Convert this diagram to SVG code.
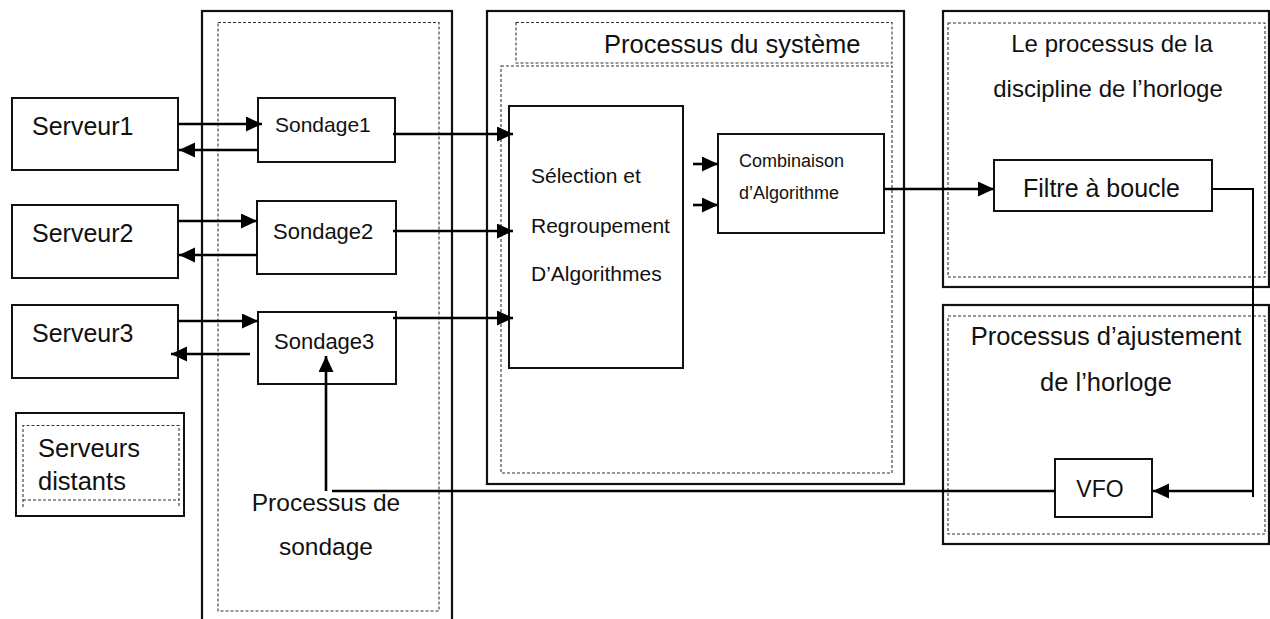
<svg xmlns="http://www.w3.org/2000/svg" width="1270" height="619" viewBox="0 0 1270 619">
  <style>
    .box { fill: none; stroke: #111; stroke-width: 2; }
    .frame { fill: none; stroke: #111; stroke-width: 2.2; }
    .dash { fill: none; stroke: #333; stroke-width: 1.1; stroke-dasharray: 3 2; }
    .wire { fill: none; stroke: #000; stroke-width: 2.6; }
    .thin { fill: none; stroke: #000; stroke-width: 2; }
    text { font-family: "Liberation Sans", Arial, sans-serif; fill: #111; }
  </style>
  <defs>
    <marker id="arrow" markerUnits="userSpaceOnUse" markerWidth="17" markerHeight="16" refX="16" refY="7.5" orient="auto">
      <path d="M0,0 L16,7.5 L0,15 z" fill="#000"/>
    </marker>
  </defs>

  <rect width="1270" height="619" fill="#fff"/>

  <!-- remote servers -->
  <g id="serveur1">
    <rect class="box" x="12" y="98" width="166" height="72"/>
    <text x="32" y="135" font-size="25">Serveur1</text>
  </g>
  <g id="serveur2">
    <rect class="box" x="12" y="205" width="166" height="73"/>
    <text x="32" y="242" font-size="25">Serveur2</text>
  </g>
  <g id="serveur3">
    <rect class="box" x="12" y="305" width="166" height="73"/>
    <text x="32" y="342" font-size="25">Serveur3</text>
  </g>
  <g id="legende-serveurs">
    <rect class="box" x="16" y="413" width="168" height="103"/>
    <path class="dash" d="M23,507 V425.5 H179 V507 M23,500 H179"/>
    <text x="38" y="457" font-size="25.5">Serveurs</text>
    <text x="38" y="490" font-size="25.5">distants</text>
  </g>

  <!-- polling process -->
  <g id="processus-sondage">
    <rect class="frame" x="202" y="11" width="250" height="620"/>
    <rect class="dash" x="218" y="22.5" width="221" height="588.5"/>
    <text x="326" y="511" font-size="24.5" text-anchor="middle">Processus de</text>
    <text x="326" y="555" font-size="24.5" text-anchor="middle">sondage</text>
  </g>
  <g id="sondage1">
    <rect class="box" x="258" y="98" width="137" height="64"/>
    <text x="275" y="132" font-size="21">Sondage1</text>
  </g>
  <g id="sondage2">
    <rect class="box" x="257" y="201" width="139" height="73"/>
    <text x="273" y="239" font-size="22">Sondage2</text>
  </g>
  <g id="sondage3">
    <rect class="box" x="258" y="312" width="138" height="72"/>
    <text x="274" y="349" font-size="22">Sondage3</text>
  </g>

  <!-- system process -->
  <g id="processus-systeme">
    <rect class="frame" x="487" y="11" width="417" height="473"/>
    <rect class="dash" x="516" y="22.5" width="376" height="40.5"/>
    <rect class="dash" x="501" y="66" width="391" height="407"/>
    <text x="604" y="53" font-size="25.5">Processus du système</text>
  </g>
  <g id="selection">
    <rect class="box" x="509" y="106" width="174" height="262"/>
    <text x="531" y="183" font-size="21">Sélection et</text>
    <text x="531" y="233" font-size="21">Regroupement</text>
    <text x="531" y="281" font-size="21">D’Algorithmes</text>
  </g>
  <g id="combinaison">
    <rect class="box" x="718" y="134" width="166" height="99"/>
    <text x="739" y="167" font-size="18">Combinaison</text>
    <text x="739" y="199" font-size="18">d’Algorithme</text>
  </g>

  <!-- clock discipline process -->
  <g id="discipline-horloge">
    <rect class="frame" x="943" y="11" width="326" height="276"/>
    <rect class="dash" x="948" y="23" width="317" height="254"/>
    <text x="1112" y="52" font-size="24" text-anchor="middle">Le processus de la</text>
    <text x="1108" y="97" font-size="24" text-anchor="middle">discipline de l’horloge</text>
  </g>
  <g id="filtre">
    <rect class="box" x="994" y="160" width="218" height="51"/>
    <text x="1023" y="197" font-size="25">Filtre à boucle</text>
  </g>

  <!-- clock adjustment process -->
  <g id="ajustement-horloge">
    <rect class="frame" x="943" y="305" width="326" height="239"/>
    <rect class="dash" x="948" y="316" width="317" height="218"/>
    <text x="1106" y="345" font-size="25.5" text-anchor="middle">Processus d’ajustement</text>
    <text x="1106" y="391" font-size="25.5" text-anchor="middle">de l’horloge</text>
  </g>
  <g id="vfo">
    <rect class="box" x="1055" y="459" width="97" height="58"/>
    <text x="1100" y="497" font-size="23" text-anchor="middle">VFO</text>
  </g>

  <!-- connectors -->
  <g id="connecteurs">
    <line class="wire" x1="178" y1="124" x2="262" y2="124" marker-end="url(#arrow)"/>
    <line class="wire" x1="258" y1="150" x2="179" y2="150" marker-end="url(#arrow)"/>
    <line class="wire" x1="178" y1="221" x2="257" y2="221" marker-end="url(#arrow)"/>
    <line class="wire" x1="257" y1="255" x2="179" y2="255" marker-end="url(#arrow)"/>
    <line class="wire" x1="178" y1="321" x2="258" y2="321" marker-end="url(#arrow)"/>
    <line class="wire" x1="250" y1="354" x2="171" y2="354" marker-end="url(#arrow)"/>

    <line class="wire" x1="393" y1="134" x2="513" y2="134" marker-end="url(#arrow)"/>
    <line class="wire" x1="393" y1="231" x2="513" y2="231" marker-end="url(#arrow)"/>
    <line class="wire" x1="393" y1="318" x2="513" y2="318" marker-end="url(#arrow)"/>

    <line class="wire" x1="693" y1="164" x2="718" y2="164" marker-end="url(#arrow)"/>
    <line class="wire" x1="693" y1="205" x2="718" y2="205" marker-end="url(#arrow)"/>
    <line class="wire" x1="884" y1="189" x2="994" y2="189" marker-end="url(#arrow)"/>

    <polyline class="thin" points="1212,189 1253,189 1253,497"/>
    <line class="wire" x1="1253" y1="491" x2="1153" y2="491" marker-end="url(#arrow)"/>
    <line class="wire" x1="1055" y1="491" x2="332" y2="491"/>
    <line class="wire" x1="326" y1="491" x2="326" y2="356" marker-end="url(#arrow)"/>
  </g>
</svg>
